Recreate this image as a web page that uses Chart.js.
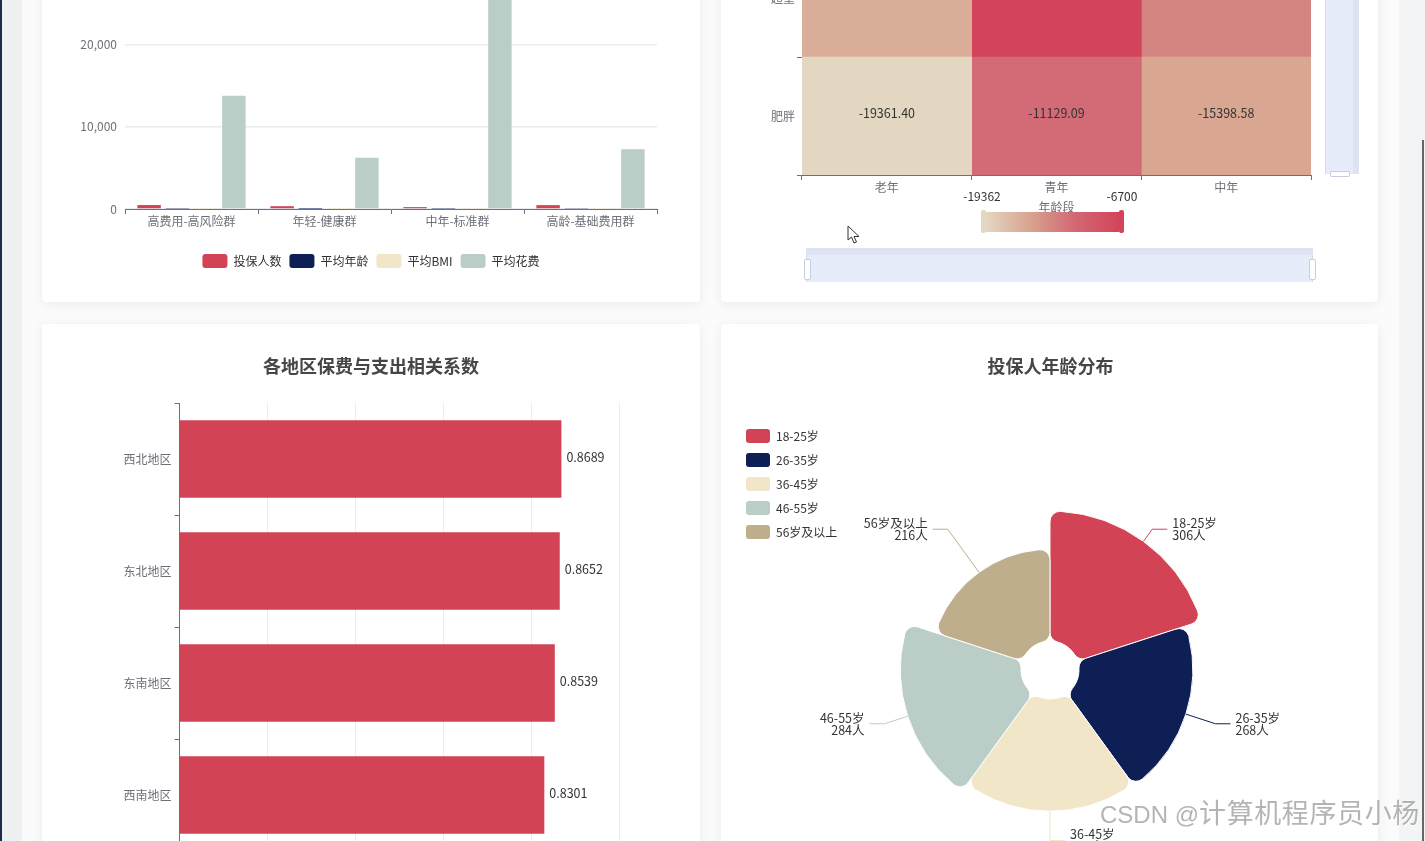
<!DOCTYPE html>
<html lang="zh">
<head>
<meta charset="utf-8">
<title>保险数据看板</title>
<script src="https://cdn.jsdelivr.net/npm/chart.js@4/dist/chart.umd.min.js"></script>
<style>
  html, body { margin: 0; padding: 0; width: 1425px; height: 841px; overflow: hidden; background: #fbfbfb; font-family: "Noto Sans CJK SC", sans-serif; }
  .abs { position: absolute; }
  .card { position: absolute; background: #fff; border-radius: 4px; box-shadow: 0 2px 12px rgba(0,0,0,.07); }
  canvas { position: absolute; display: block; }
  .vm-text { position: absolute; font-size: 12px; color: #333; line-height: 14px; transform: translateX(-50%); white-space: nowrap; }
  #watermark { position: absolute; left: 1100px; top: 792px; color: rgba(130,130,130,.6); text-shadow: 1px 1px 0 rgba(255,255,255,.8); white-space: nowrap; }
  #watermark .latin { font: 24px "Liberation Sans", sans-serif; }
  #watermark .cjk { font: 27px "Noto Sans CJK SC", sans-serif; letter-spacing: .6px; }
</style>
</head>
<body>
<!-- page edges -->
<div class="abs" style="left:0;top:0;width:22px;height:841px;background:#eef0f2"></div>
<div class="abs" style="left:0;top:0;width:2px;height:841px;background:#1f2d4d"></div>
<div class="abs" style="left:1399px;top:0;width:26px;height:841px;background:#f3f4f6"></div>
<div class="abs" style="left:1422px;top:140px;width:2px;height:701px;background:#666"></div>

<div class="card" style="left:42px;top:-100px;width:658px;height:402px"></div>
<div class="card" style="left:721px;top:-100px;width:657px;height:402px"></div>
<div class="card" style="left:42px;top:324px;width:658px;height:600px"></div>
<div class="card" style="left:721px;top:324px;width:657px;height:600px"></div>

<canvas id="clusterChart" width="658" height="383" style="left:42px;top:-80px"></canvas>
<canvas id="heatChart" width="657" height="383" style="left:721px;top:-80px"></canvas>
<canvas id="regionChart" width="658" height="557" style="left:42px;top:324px"></canvas>
<canvas id="ageChart" width="657" height="599" style="left:722px;top:324px"></canvas>

<!-- heatmap visualMap -->
<div class="vm-text" style="left:982px;top:189px">-19362</div>
<div class="vm-text" style="left:1122px;top:189px">-6700</div>
<div class="abs" id="vmBar" style="left:986px;top:212px;width:133px;height:20px"></div>
<div class="abs" style="left:981px;top:210px;width:5px;height:23px;background:#e3d7c2;border-radius:2px"></div>
<div class="abs" style="left:1119px;top:210px;width:5px;height:23px;background:#d3445a;border-radius:2px"></div>

<!-- heatmap dataZoom, bottom -->
<div class="abs" style="left:806px;top:248px;width:507px;height:7px;background:#dde3f2"></div>
<div class="abs" style="left:806px;top:255px;width:507px;height:27px;background:#e7ecfb;border-left:1px solid #d4dbee;border-right:1px solid #d4dbee;box-sizing:border-box"></div>
<div class="abs" style="left:804px;top:259px;width:5px;height:19px;background:#fff;border:1px solid #c6cde2;border-radius:2px"></div>
<div class="abs" style="left:1309px;top:259px;width:5px;height:19px;background:#fff;border:1px solid #c6cde2;border-radius:2px"></div>
<!-- heatmap dataZoom, right -->
<div class="abs" style="left:1325px;top:-20px;width:28px;height:194px;background:#e7ecfb;border-left:1px solid #d4dbee;box-sizing:border-box"></div>
<div class="abs" style="left:1353px;top:-20px;width:6px;height:194px;background:#dde3f2"></div>
<div class="abs" style="left:1330px;top:171px;width:18px;height:4px;background:#fff;border:1px solid #c6cde2;border-radius:2px"></div>

<svg class="abs" style="left:847px;top:225px" width="14" height="20" viewBox="0 0 14 20">
  <path d="M1 1 L1 15 L4.5 12 L7 18 L9.5 17 L7 11.5 L12 11.5 Z" fill="#fff" stroke="#333" stroke-width="1"/>
</svg>

<div id="watermark"><span class="latin">CSDN @</span><span class="cjk">计算机程序员小杨</span></div>

<script>
// colors
const RED = '#d24356', NAVY = '#0d1f55', CREAM = '#f2e6c9', SAGE = '#bacdc6', KHAKI = '#bfae8c';
const AXIS = '#6e7079', GRID = '#e9ecf2', LABEL = '#333';

// cluster bars
const clusterNames = ['高费用-高风险群', '年轻-健康群', '中年-标准群', '高龄-基础费用群'];
const clusterCount = [480, 340, 230, 470];
const clusterAge = [50, 28, 45, 62];
const clusterBmi = [32, 26, 30, 31];
const clusterCost = [13770, 6230, 27000, 7250];
const clusterTicks = [0, 10000, 20000, 30000];

// heatmap
const bmiGroups = ['超重', '肥胖'];
const ageGroups = ['老年', '青年', '中年'];
const heatOverweight = [-16014.03, -6700.83, -13030.27];
const heatObese = [-19361.40, -11129.09, -15398.58];
const heatMin = -19362, heatMax = -6700;
const heatStops = ['#e3d7c2', '#d8a38e', '#d26874', '#d3445a'];
const cellSpan = [1, 1];

// region correlation
const regions = ['西北地区', '东北地区', '东南地区', '西南地区'];
const regionCorr = [0.8689, 0.8652, 0.8539, 0.8301];

// age rose
const ageBands = ['18-25岁', '26-35岁', '36-45岁', '46-55岁', '56岁及以上'];
const ageCounts = [306, 268, 264, 284, 216];
const ageColors = [RED, NAVY, CREAM, SAGE, KHAKI];

Chart.defaults.font.family = '"Noto Sans CJK SC", sans-serif';
Chart.defaults.font.size = 12;
Chart.defaults.animation = false;
Chart.defaults.responsive = false;
Chart.defaults.plugins.tooltip.enabled = false;

function hexRgb(h) {
  return [1, 3, 5].map(i => parseInt(h.substr(i, 2), 16));
}
function heatColor(v) {
  let t = (v - heatMin) / (heatMax - heatMin) * (heatStops.length - 1);
  t = Math.max(0, Math.min(heatStops.length - 1, t));
  const i = Math.min(Math.floor(t), heatStops.length - 2);
  const a = hexRgb(heatStops[i]), b = hexRgb(heatStops[i + 1]), f = t - i;
  return 'rgb(' + a.map((c, k) => Math.round(c + (b[k] - c) * f)).join(',') + ')';
}
document.getElementById('vmBar').style.background = 'linear-gradient(to right,' + heatStops.join(',') + ')';

// y labels are wider than the narrow axis box, stop them being clipped
const wideTicks = {
  id: 'wideTicks',
  afterLayout(chart) { chart.scales.y.left = 0; }
};

// top left chart
new Chart(document.getElementById('clusterChart'), {
  type: 'bar',
  data: {
    labels: clusterNames,
    datasets: [
      { label: '投保人数', data: clusterCount, backgroundColor: RED },
      { label: '平均年龄', data: clusterAge, backgroundColor: NAVY },
      { label: '平均BMI', data: clusterBmi, backgroundColor: CREAM },
      { label: '平均花费', data: clusterCost, backgroundColor: SAGE }
    ]
  },
  options: {
    layout: { padding: { top: 42, bottom: 25, left: 43, right: 43 } },
    datasets: { bar: { categoryPercentage: 0.85, barPercentage: 0.83 } },
    plugins: {
      legend: {
        position: 'bottom',
        labels: { boxWidth: 25, boxHeight: 14, borderRadius: 3, useBorderRadius: true, padding: 8, color: LABEL }
      }
    },
    scales: {
      x: {
        grid: { offset: true, drawOnChartArea: false, color: AXIS, tickLength: 5 },
        border: { color: AXIS },
        ticks: { color: AXIS, padding: 0, maxRotation: 0, autoSkip: false },
        afterFit: s => { s.height = 37; }
      },
      y: {
        min: 0, max: 30000,
        afterBuildTicks: s => { s.ticks = clusterTicks.map(v => ({ value: v })); },
        grid: { color: GRID, lineWidth: 1.5, drawTicks: false },
        border: { display: false },
        ticks: { color: AXIS, padding: 8, callback: v => v.toLocaleString('en-US') },
        afterFit: s => { s.width = 40; }
      }
    }
  },
  plugins: [wideTicks]
});

// heat cell text
const heatText = {
  id: 'heatText',
  afterDatasetsDraw(chart) {
    const ctx = chart.ctx;
    ctx.save();
    ctx.font = '12.5px "Noto Sans CJK SC"';
    ctx.fillStyle = LABEL;
    ctx.textAlign = 'center';
    ctx.textBaseline = 'middle';
    [heatOverweight, heatObese].forEach((row, r) => {
      row.forEach((v, c) => {
        const bar = chart.getDatasetMeta(c).data[r];
        ctx.fillText(v.toFixed(2), (bar.base + bar.x) / 2, bar.y - 2.5);
      });
    });
    ctx.restore();
  }
};

// top right chart
new Chart(document.getElementById('heatChart'), {
  type: 'bar',
  data: {
    labels: bmiGroups,
    datasets: ageGroups.map((name, c) => ({
      label: name,
      data: cellSpan,
      backgroundColor: [heatColor(heatOverweight[c]), heatColor(heatObese[c])],
      barPercentage: 1,
      categoryPercentage: 1
    }))
  },
  options: {
    indexAxis: 'y',
    layout: { padding: { top: 19, bottom: 88, right: 67 } },
    plugins: { legend: { display: false } },
    scales: {
      x: { display: false, stacked: true, min: 0, max: 3 },
      x2: {
        type: 'category',
        labels: ageGroups,
        position: 'bottom',
        offset: true,
        grid: { offset: true, drawOnChartArea: false, color: AXIS, tickLength: 5 },
        border: { color: AXIS },
        ticks: { color: AXIS, padding: 0, maxRotation: 0 },
        title: { display: true, text: '年龄段', color: AXIS, padding: 0 },
        afterFit: s => { s.height = 40; }
      },
      y: {
        stacked: true,
        grid: { offset: true, drawOnChartArea: false, color: AXIS, tickLength: 5 },
        border: { color: AXIS },
        ticks: { color: AXIS, padding: 2 },
        afterFit: s => { s.width = 81; }
      }
    }
  },
  plugins: [heatText]
});

// bar end text
const barValues = {
  id: 'barValues',
  afterDatasetsDraw(chart) {
    const ctx = chart.ctx;
    ctx.save();
    ctx.font = '12.5px "Noto Sans CJK SC"';
    ctx.fillStyle = LABEL;
    ctx.textBaseline = 'middle';
    chart.getDatasetMeta(0).data.forEach((bar, i) => {
      ctx.fillText(regionCorr[i].toFixed(4), bar.x + 5, bar.y - 1.5);
    });
    ctx.restore();
  }
};

// bottom left chart
new Chart(document.getElementById('regionChart'), {
  type: 'bar',
  data: {
    labels: regions,
    datasets: [{ label: '相关系数', data: regionCorr, backgroundColor: RED, categoryPercentage: 0.69, barPercentage: 1 }]
  },
  options: {
    indexAxis: 'y',
    layout: { padding: { left: 81, right: 81 } },
    plugins: {
      legend: { display: false },
      title: {
        display: true,
        text: '各地区保费与支出相关系数',
        color: '#464646',
        font: { size: 18, weight: 'bold' },
        padding: { top: 31, bottom: 26.4 }
      }
    },
    scales: {
      x: {
        min: 0, max: 1,
        grid: { color: GRID, drawTicks: false },
        border: { display: false },
        ticks: { color: AXIS, stepSize: 0.2 },
        afterFit: s => { s.height = 30; }
      },
      y: {
        grid: { offset: true, drawOnChartArea: false, color: AXIS, tickLength: 5 },
        border: { color: AXIS },
        ticks: { color: AXIS, padding: 3 },
        afterFit: s => { s.width = 56.5; }
      }
    }
  },
  plugins: [barValues]
});

// rose hole, leader lines and outer labels
const HOLE = 29, ELBOW = 174;
const roseLabels = {
  id: 'roseLabels',
  beforeDatasetsDraw(chart) {
    chart.getDatasetMeta(0).data.forEach(arc => { arc.innerRadius = HOLE; });
  },
  afterDatasetsDraw(chart) {
    const ctx = chart.ctx;
    ctx.save();
    ctx.font = '12.5px "Noto Sans CJK SC"';
    ctx.textBaseline = 'middle';
    chart.getDatasetMeta(0).data.forEach((arc, i) => {
      const m = (arc.startAngle + arc.endAngle) / 2;
      const cos = Math.cos(m), sin = Math.sin(m);
      const side = cos >= -0.001 ? 1 : -1;
      const ex = arc.x + ELBOW * cos;
      const ey = arc.y + ELBOW * sin - (i === 2 ? 3.5 : 0);
      ctx.strokeStyle = ageColors[i];
      ctx.lineWidth = 1;
      ctx.beginPath();
      ctx.moveTo(arc.x + arc.outerRadius * cos, arc.y + arc.outerRadius * sin);
      ctx.lineTo(ex, ey);
      ctx.lineTo(ex + side * 15, ey);
      ctx.stroke();
      ctx.fillStyle = LABEL;
      ctx.textAlign = side > 0 ? 'left' : 'right';
      ctx.fillText(ageBands[i], ex + side * 20, ey - 6);
      ctx.fillText(ageCounts[i] + '人', ex + side * 20, ey + 6);
    });
    ctx.restore();
  }
};

// bottom right chart
new Chart(document.getElementById('ageChart'), {
  type: 'polarArea',
  data: {
    labels: ageBands,
    datasets: [{ data: ageCounts, backgroundColor: ageColors, borderColor: '#fff', borderWidth: 1, borderRadius: 10 }]
  },
  options: {
    layout: { padding: { left: 14, right: 14 } },
    plugins: {
      legend: {
        position: 'chartArea',
        align: 'start',
        // blank title pushes the list down under the card title
        title: { display: true, text: ' ', padding: { top: 40, bottom: 40.6 } },
        labels: {
          boxWidth: 24, boxHeight: 14, padding: 10, color: LABEL,
          generateLabels: chart => Chart.overrides.polarArea.plugins.legend.labels.generateLabels(chart)
            .map(item => ({ ...item, borderRadius: 3, lineWidth: 0 }))
        }
      },
      title: {
        display: true,
        text: '投保人年龄分布',
        color: '#464646',
        font: { size: 18, weight: 'bold' },
        padding: { top: 31, bottom: 42 }
      }
    },
    scales: {
      r: { display: false, min: -68.3, max: 525, startAngle: 0 }
    }
  },
  plugins: [roseLabels]
});
</script>
</body>
</html>
